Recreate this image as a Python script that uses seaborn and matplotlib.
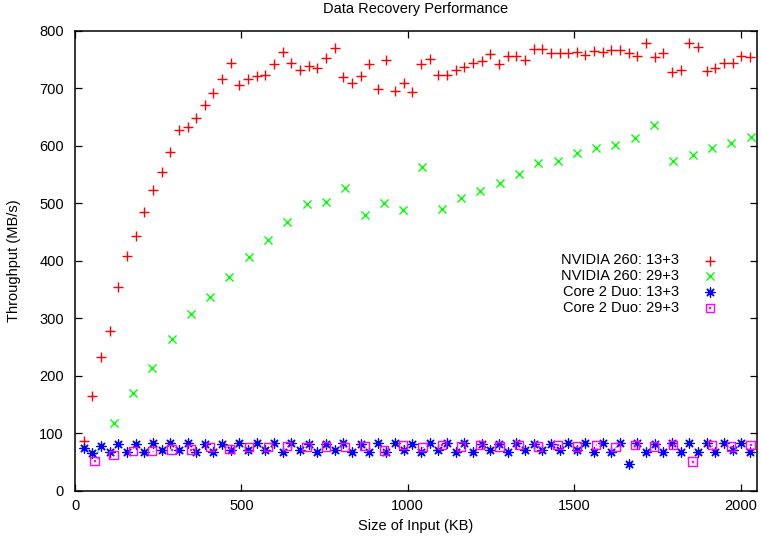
import numpy as np
import pandas as pd
import matplotlib
matplotlib.use("Agg")
import matplotlib.pyplot as plt
import seaborn as sns
from matplotlib.path import Path

# ---------------- data ----------------
title = "Data Recovery Performance"
x_label = "Size of Input (KB)"
y_label = "Throughput (MB/s)"
x_ticks = [0, 500, 1000, 1500, 2000]
y_ticks = [0, 100, 200, 300, 400, 500, 600, 700, 800]

series_labels = ["NVIDIA 260: 13+3", "NVIDIA 260: 29+3",
                 "Core 2 Duo: 13+3", "Core 2 Duo: 29+3"]

# input sizes (KB) sampled in steps of the chunk width
size_13 = np.arange(26, 2029, 26)   # 78 sizes
size_29 = np.arange(58, 2031, 58)   # 35 sizes

nvidia_13 = [87, 164, 232, 278, 354, 408, 444, 485, 523, 555, 590, 628, 633,
             648, 671, 692, 716, 745, 706, 716, 721, 723, 743, 764, 745, 732,
             739, 735, 753, 770, 720, 710, 721, 742, 699, 749, 695, 710, 693,
             743, 752, 724, 723, 732, 738, 745, 747, 760, 742, 756, 756, 750,
             768, 769,
             762, 762, 762, 763, 758, 765, 764, 767, 767, 761, 757, 779, 755,
             762, 729, 732, 779, 772, 730, 736, 745, 744, 757, 755]

nvidia_29 = [63, 117, 170, 213, 264, 307, 337, 372, 406, 437, 468, 499, 502,
             526, 480, 501, 489, 563, 490, 510, 522, 536, 551, 571, 573, 587,
             597, 602, 614, 637, 573, 584, 597, 605, 615]

core2_13 = [74, 66, 78, 68, 81, 68, 81, 68, 83, 70, 83, 70, 83, 68, 81, 68,
            81, 70, 83, 70, 83, 70, 83, 68, 83, 70, 81, 68, 81, 70, 83, 68,
            81, 68, 83, 68, 83, 70, 81, 68, 83, 70, 83, 68, 83, 68, 81, 70,
            81, 68, 83, 70, 81, 70, 81, 70, 83, 70, 83, 68, 83, 68, 83, 46,
            83, 68, 81, 68, 83, 68, 83, 68, 83, 68, 83, 70, 83, 68]

core2_29 = [52, 62, 69, 69, 72, 72, 76, 73, 76, 76, 78, 76, 77, 76, 78, 70,
            79, 76, 80, 77, 80, 77, 80, 77, 80, 77, 80, 76, 79, 77, 80, 51,
            79, 77, 80]

# ---------------- style ----------------
sns.set_style("ticks")
plt.rcParams["font.family"] = ["Liberation Sans", "DejaVu Sans"]
plt.rcParams["font.size"] = 10.5
plt.rcParams["text.color"] = "black"
plt.rcParams["axes.labelcolor"] = "black"
plt.rcParams["xtick.color"] = "black"
plt.rcParams["ytick.color"] = "black"
plt.rcParams["axes.edgecolor"] = "black"

fig = plt.figure(figsize=(7.61, 5.38), dpi=100)
ax = fig.add_axes([0.0986, 0.0879, 0.9941 - 0.0986, 0.9424 - 0.0879])

# square-with-centre-dot marker (gnuplot style)
sq_verts = [(-1, -1), (1, -1), (1, 1), (-1, 1), (-1, -1),
            (-0.08, -0.08), (0.08, -0.08), (0.08, 0.08), (-0.08, 0.08), (-0.08, -0.08)]
sq_codes = [Path.MOVETO, Path.LINETO, Path.LINETO, Path.LINETO, Path.CLOSEPOLY] * 2
square_dot = Path(sq_verts, sq_codes)

df13 = pd.DataFrame({"size": size_13, "nv": nvidia_13, "c2": core2_13})
df29 = pd.DataFrame({"size": size_29, "nv": nvidia_29, "c2": core2_29})

sns.scatterplot(data=df13, x="size", y="nv", marker="+", color="#ff0000",
                s=48, linewidth=1.0, ax=ax, label=series_labels[0], zorder=3)
sns.scatterplot(data=df29, x="size", y="nv", marker="x", color="#00ff00",
                s=34, linewidth=1.0, ax=ax, label=series_labels[1], zorder=3)
sns.scatterplot(data=df13, x="size", y="c2", marker=(8, 2, 0), color="#0000ff",
                s=44, linewidth=0.9, ax=ax, label=series_labels[2], zorder=3)
sns.scatterplot(data=df29, x="size", y="c2", marker=square_dot, color="#ff00ff",
                s=36, linewidth=1.0, ax=ax, label=series_labels[3], zorder=3)
coll = ax.collections[-1]
coll.set_facecolor("none")
coll.set_edgecolor("#ff00ff")

ax.set_xlim(0, 2048)
ax.set_ylim(0, 800)
ax.set_xticks(x_ticks)
ax.set_yticks(y_ticks)
ax.tick_params(direction="in", top=True, right=True, length=5, width=0.9,
               labelsize=10.5)
ax.tick_params(axis="x", pad=6)
ax.tick_params(axis="y", pad=8)
for sp in ax.spines.values():
    sp.set_visible(True)
    sp.set_linewidth(1.1)
    sp.set_color("black")

ax.set_title(title, fontsize=10.5, pad=13)
ax.set_xlabel(x_label, fontsize=10.5, labelpad=4)
ax.set_ylabel(y_label, fontsize=10.5, labelpad=13)

ax.legend(loc="center right", bbox_to_anchor=(0.972, 0.4497), markerfirst=False,
          frameon=False, handlelength=2.0, handletextpad=1.1, labelspacing=0.12,
          borderpad=0.4, fontsize=10.5, scatterpoints=1)

fig.savefig("out.png", dpi=100)
